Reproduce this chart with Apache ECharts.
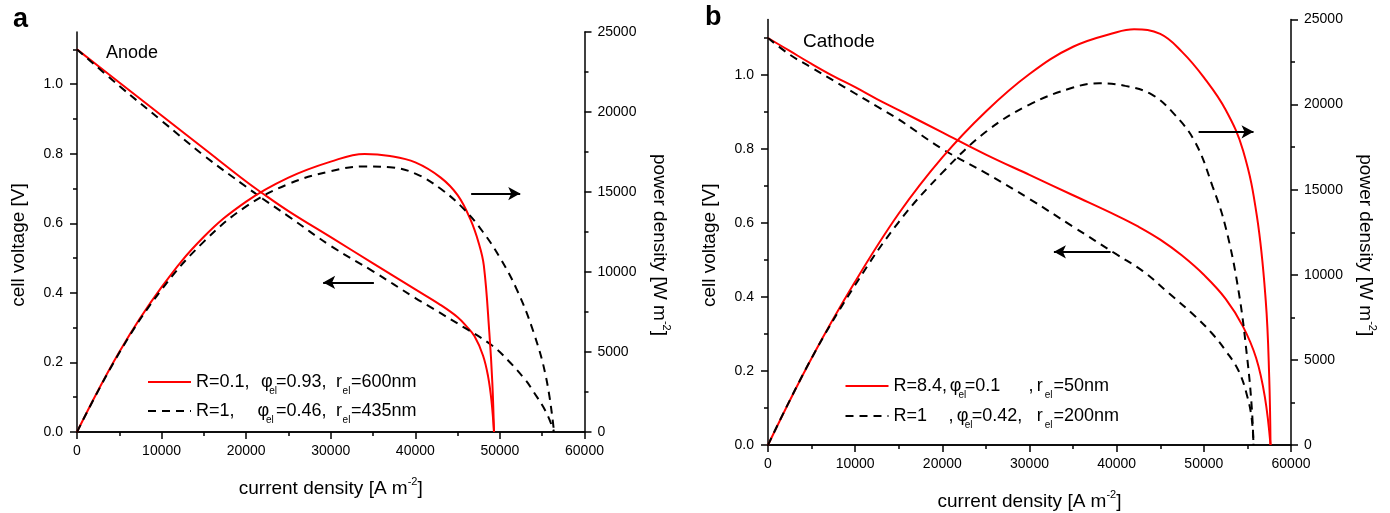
<!DOCTYPE html>
<html><head><meta charset="utf-8">
<script src="https://cdn.jsdelivr.net/npm/echarts@6/dist/echarts.min.js"></script>
<style>html,body{margin:0;padding:0;background:#fff}#c{width:1390px;height:513px}</style>
</head><body><div id="c"></div>
<script>
// ---------- DATA ----------
// Panel a (Anode)
const aRedV_j = [0, 5000, 10000, 15000, 20000, 21700, 25000, 30000, 35000, 40000, 43000, 45000, 46000, 47000, 48000, 48600, 49000, 49300];
const aRedV   = [1.10, 1.005, 0.91, 0.815, 0.72, 0.69, 0.635, 0.56, 0.485, 0.41, 0.365, 0.33, 0.305, 0.275, 0.22, 0.16, 0.09, 0.0];
const aBlkV_j = [0, 5000, 10000, 15000, 20000, 22000, 25000, 30000, 35000, 40000, 42000, 45800, 49000, 51000, 53000, 54000, 55500, 56400];
const aBlkV   = [1.10, 0.995, 0.895, 0.795, 0.705, 0.67, 0.62, 0.535, 0.462, 0.385, 0.356, 0.30, 0.25, 0.205, 0.15, 0.115, 0.055, 0.0];
const aRedP_j = [0, 5000, 10000, 15000, 20000, 25000, 30000, 34000, 37000, 40000, 43000, 45000, 46500, 47500, 48100, 48750, 49100, 49300];
const aRedP   = [0, 5000, 9050, 12200, 14400, 15900, 16900, 17380, 17250, 16850, 15900, 14800, 13300, 11800, 10400, 6200, 3100, 0];
const aBlkP_j = [0, 5000, 10000, 15000, 20000, 25000, 30000, 34000, 37000, 40000, 43000, 45800, 48000, 50000, 52000, 54000, 55500, 56400];
const aBlkP   = [0, 4950, 8900, 11900, 14100, 15500, 16300, 16600, 16550, 16150, 15200, 13900, 12500, 10900, 8900, 6200, 3300, 0];
// Panel b (Cathode)
const bRedV_j = [0, 2500, 5000, 7500, 10000, 12500, 15000, 20000, 25000, 30000, 35000, 40000, 42500, 45000, 47500, 50000, 52500, 54500, 56000, 57000, 57650];
const bRedV   = [1.10, 1.065, 1.03, 0.997, 0.967, 0.935, 0.905, 0.845, 0.785, 0.73, 0.675, 0.62, 0.59, 0.555, 0.512, 0.46, 0.395, 0.32, 0.235, 0.13, 0.0];
const bBlkV_j = [0, 2500, 5000, 7500, 10000, 12500, 15000, 20000, 25000, 30000, 35000, 40000, 43000, 46000, 49000, 51000, 52500, 54000, 55000, 55500, 55700];
const bBlkV   = [1.10, 1.055, 1.02, 0.985, 0.95, 0.915, 0.88, 0.80, 0.735, 0.665, 0.59, 0.515, 0.47, 0.41, 0.348, 0.30, 0.255, 0.20, 0.13, 0.07, 0.0];
const bRedP_j = [0, 5000, 10000, 15000, 20000, 25000, 30000, 35000, 40000, 42000, 45000, 47500, 50000, 52500, 54500, 56100, 57100, 57500, 57650];
const bRedP   = [0, 5100, 9600, 13600, 16900, 19600, 21800, 23400, 24250, 24420, 24150, 23100, 21600, 19700, 17300, 13400, 8500, 4000, 0];
const bBlkP_j = [0, 5000, 10000, 15000, 20000, 25000, 30000, 35000, 38000, 41000, 44000, 46500, 49000, 51000, 52500, 54000, 55000, 55500, 55700];
const bBlkP   = [0, 5100, 9400, 13100, 16000, 18400, 20000, 21000, 21250, 21100, 20600, 19500, 17800, 15200, 12800, 9000, 5000, 2200, 0];
// Arrow annotations (data coordinates: [current density, value])
const aArrowV = [[35100, 0.43], [29100, 0.43]];
const aArrowP = [[46600, 14900], [52400, 14900]];
const bArrowV = [[39300, 0.522], [32800, 0.522]];
const bArrowP = [[49400, 18400], [55700, 18400]];
// Tick labels
const vMajor = [0, 0.2, 0.4, 0.6, 0.8, 1.0];
const vMinor = [0.1, 0.3, 0.5, 0.7, 0.9, 1.1];

// ---------- CHART ----------
const FONT = "'Liberation Sans', Arial, sans-serif";
const BLACK = '#000';
const RED = '#ff0000';
const pairs = (xs, ys) => xs.map((x, i) => [x, ys[i]]);

const axisLine = {show: true, lineStyle: {color: BLACK, width: 1.5}};
const tickStyle = {color: BLACK, width: 1.5};
const nameRich = {
  n: {fontSize: 19, fontFamily: FONT, color: BLACK},
  s: {fontSize: 11, fontFamily: FONT, color: BLACK, padding: [0, 0, 14, 0]}
};
const plain = v => String(v);

function xAxes(g) {
  return [
    {gridIndex: g, type: 'value', min: 0, max: 60000, interval: 10000, position: 'bottom',
     axisLine, axisTick: {length: 7, lineStyle: tickStyle},
     minorTick: {show: true, splitNumber: 2, length: 4, lineStyle: tickStyle},
     splitLine: {show: false}, minorSplitLine: {show: false},
     axisLabel: {margin: 12, color: BLACK, fontSize: 14, fontFamily: FONT, formatter: plain},
     name: '{n|current density [A m}{s|-2}{n|]}', nameLocation: 'middle', nameGap: 44,
     nameTextStyle: {rich: nameRich}},
    {gridIndex: g, type: 'value', min: 0, max: 60000, interval: 10000, position: 'top',
     axisLine, axisTick: {inside: true, length: 7, lineStyle: tickStyle},
     minorTick: {show: true, splitNumber: 2, length: 4, lineStyle: tickStyle},
     splitLine: {show: false}, axisLabel: {show: false}}
  ];
}
function yAxes(g) {
  return [
    {gridIndex: g, type: 'value', min: 0, max: 1.15, position: 'left',
     axisLine, axisTick: {length: 7, lineStyle: tickStyle, customValues: vMajor},
     splitLine: {show: false},
     axisLabel: {customValues: vMajor, formatter: v => v.toFixed(1), margin: 14, color: BLACK, fontSize: 14, fontFamily: FONT},
     name: '{n|cell voltage [V]}', nameLocation: 'middle', nameGap: 49, nameRotate: 90,
     nameTextStyle: {rich: nameRich, padding: [0, 26, 0, 0]}},
    {gridIndex: g, type: 'value', min: 0, max: 1.15, position: 'left',
     axisLine: {show: false}, axisTick: {length: 4, lineStyle: tickStyle, customValues: vMinor},
     splitLine: {show: false}, axisLabel: {show: false}},
    {gridIndex: g, type: 'value', min: 0, max: 25000, interval: 5000, position: 'right',
     axisLine, axisTick: {length: 7, lineStyle: tickStyle},
     minorTick: {show: true, splitNumber: 2, length: 4, lineStyle: tickStyle},
     splitLine: {show: false}, minorSplitLine: {show: false},
     axisLabel: {margin: 13, color: BLACK, fontSize: 14, fontFamily: FONT, formatter: plain},
     name: '{n|power density [W m}{s|-2}{n|]}', nameLocation: 'middle', nameGap: 62, nameRotate: -90,
     nameTextStyle: {rich: nameRich, padding: [0, 0, 0, 26]}}
  ];
}
function lineSeries(name, xi, yi, data, dashed, arrow) {
  const s = {
    type: 'line', name, xAxisIndex: xi, yAxisIndex: yi, data,
    symbol: 'none', showSymbol: false, smooth: 0.4,
    lineStyle: dashed ? {color: BLACK, width: 2, type: [8, 6]} : {color: RED, width: 2},
    itemStyle: {color: dashed ? BLACK : RED},
    emphasis: {disabled: true}
  };
  if (arrow) {
    s.markLine = {
      silent: true, symbol: ['none', 'arrow'], symbolSize: [10, 12],
      lineStyle: {color: BLACK, width: 2, type: 'solid'},
      itemStyle: {color: BLACK},
      label: {show: false}, emphasis: {disabled: true},
      data: [[{coord: arrow[0]}, {coord: arrow[1]}]]
    };
  }
  return s;
}

const FS = 18;
const mk = (w, extra) => Object.assign({fontSize: FS, fontFamily: FONT, color: BLACK}, w ? {width: w} : {}, extra || {});
const sub = w => ({fontSize: 10, fontFamily: FONT, color: BLACK, width: w, padding: [18, 0, 0, 0]});
const legendRichA = {
  n: mk(), t1: mk(65), t1b: mk(61.6), ph: mk(8.3), ph2: mk(8.4),
  e1: sub(6.7), e2: sub(10), t3: mk(60), r: mk(6.6), e3: sub(8.4)
};
const legendRichB = {
  n: mk(), u1: mk(56.3), u1b: mk(55), c: mk(8.3), ph: mk(8.7), ph2: mk(8),
  e1: sub(6.3), e2: sub(7), u3: mk(63.7), u3b: mk(65), r: mk(8), e3: sub(8.7)
};
const LEG = {
  aR: '{t1|R=0.1,}{ph|φ}{e1|el}{t3|=0.93,}{r|r}{e3|el}{n|=600nm}',
  aK: '{t1b|R=1,}{ph2|φ}{e2|el}{t3|=0.46,}{r|r}{e3|el}{n|=435nm}',
  bR: '{u1|R=8.4,}{ph|φ}{e1|el}{u3|=0.1}{c|,}{r|r}{e3|el}{n|=50nm}',
  bK: '{u1b|R=1}{c|,}{ph2|φ}{e2|el}{u3b|=0.42,}{r|r}{e3|el}{n|=200nm}'
};
const legendItemStyle = {color: 'rgba(0,0,0,0)', borderWidth: 0, opacity: 0};

const option = {
  animation: false,
  backgroundColor: '#fff',
  grid: [
    {left: 77, top: 32, width: 507.5, height: 400, outerBoundsMode: 'none'},
    {left: 768, top: 19.5, width: 523, height: 425.5, outerBoundsMode: 'none'}
  ],
  xAxis: [...xAxes(0), ...xAxes(1)],
  yAxis: [...yAxes(0), ...yAxes(1)],
  legend: [
    {left: 147, top: 373, orient: 'vertical', itemWidth: 43, itemHeight: 14, itemGap: 6, padding: 0,
     selectedMode: false, data: ['aR', 'aK'], formatter: n => LEG[n], itemStyle: legendItemStyle,
     textStyle: {rich: legendRichA}},
    {left: 844.5, top: 377, orient: 'vertical', itemWidth: 43, itemHeight: 14, itemGap: 7, padding: 0,
     selectedMode: false, data: ['bR', 'bK'], formatter: n => LEG[n], itemStyle: legendItemStyle,
     textStyle: {rich: legendRichB}}
  ],
  graphic: [
    {type: 'text', left: 13, top: 6, style: {text: 'a', font: "bold 27px 'Liberation Sans', Arial", fill: BLACK}},
    {type: 'text', left: 705, top: 4, style: {text: 'b', font: "bold 27px 'Liberation Sans', Arial", fill: BLACK}},
    {type: 'text', left: 106, top: 44, style: {text: 'Anode', font: "18px 'Liberation Sans', Arial", fill: BLACK}},
    {type: 'text', left: 803, top: 32, style: {text: 'Cathode', font: "19px 'Liberation Sans', Arial", fill: BLACK}}
  ],
  series: [
    lineSeries('aR', 0, 0, pairs(aRedV_j, aRedV), false, aArrowV),
    lineSeries('aK', 0, 0, pairs(aBlkV_j, aBlkV), true),
    lineSeries('aR', 0, 2, pairs(aRedP_j, aRedP), false, aArrowP),
    lineSeries('aK', 0, 2, pairs(aBlkP_j, aBlkP), true),
    lineSeries('bR', 2, 3, pairs(bRedV_j, bRedV), false, bArrowV),
    lineSeries('bK', 2, 3, pairs(bBlkV_j, bBlkV), true),
    lineSeries('bR', 2, 5, pairs(bRedP_j, bRedP), false, bArrowP),
    lineSeries('bK', 2, 5, pairs(bBlkP_j, bBlkP), true)
  ]
};
const chart = echarts.init(document.getElementById('c'), null, {renderer: 'canvas'});
chart.setOption(option);
</script></body></html>
